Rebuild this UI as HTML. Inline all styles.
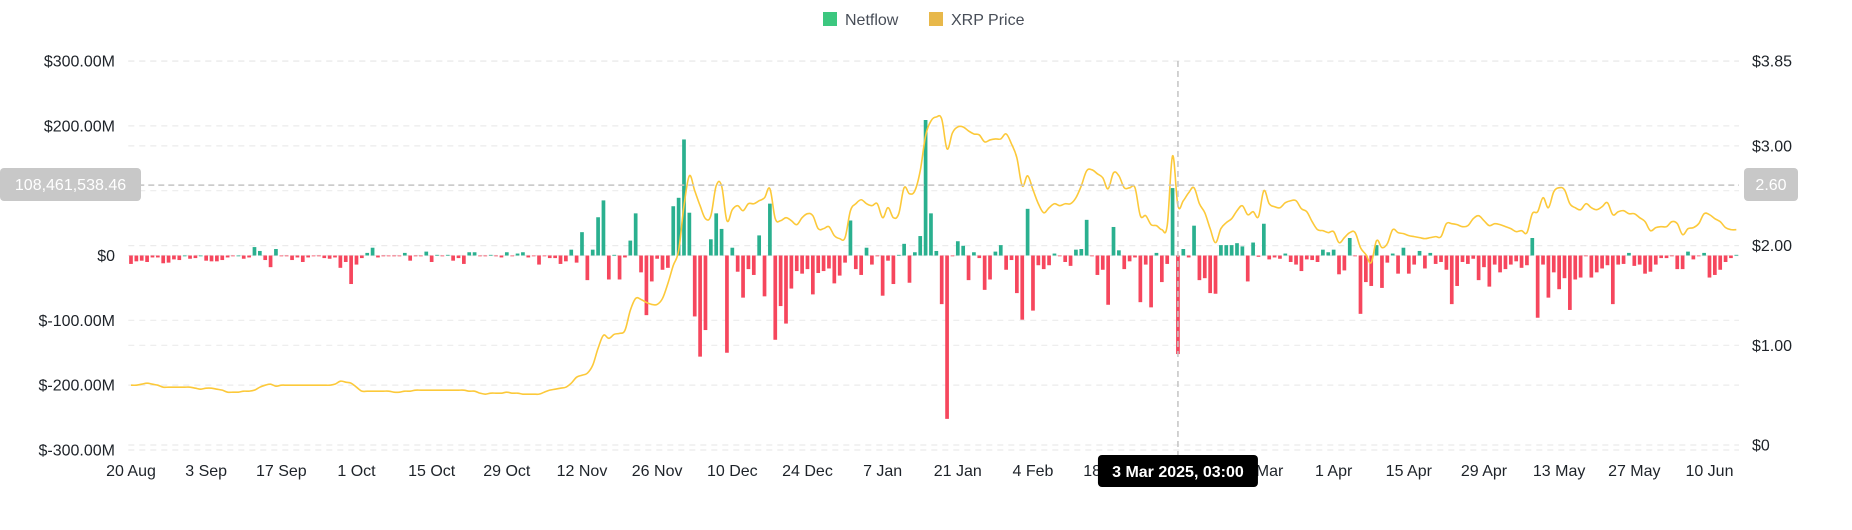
<!DOCTYPE html>
<html><head><meta charset="utf-8">
<style>
html,body{margin:0;padding:0;background:#fff;}
body{width:1852px;height:525px;overflow:hidden;font-family:"Liberation Sans",sans-serif;}
svg text{font-family:"Liberation Sans",sans-serif;}
</style></head>
<body>
<svg id="chart" width="1852" height="525" viewBox="0 0 1852 525" xmlns="http://www.w3.org/2000/svg">
<g id="legend">
  <g>
    <rect x="823" y="12" width="14" height="14" fill="#3cc77f"/>
    <text x="845" y="25" font-size="16" fill="#474d57">Netflow</text>
  </g>
  <g>
    <rect x="929" y="12" width="14" height="14" fill="#e8b84a"/>
    <text x="951" y="25" font-size="16" fill="#474d57">XRP Price</text>
  </g>
</g>
<g id="grid"></g>
<g id="bars"></g>
<path id="priceLine" fill="none" stroke="#fcc93a" stroke-width="1.6"/>
<g id="axes"></g>
<g id="cross"></g>
</svg>
<script>
const netflow = [
-13,-9,-8,-10,-3,-3,-12,-11,-6,-7,0,-5,-4,0,-8,-9,-9,-7,-3,-1,0,-5,-3,13,7,-7,-18,10,-1,-1,-7,-3,-10,-3,-1,-1,-4,-5,-3,-19,-10,-44,-14,-4,4,12,-3,-1,-1,-1,-1,
4,-8,-1,-1,6,-10,1,-1,1,-8,-4,-13,5,5,-1,-1,1,-1,-3,5,-1,3,5,-3,-1,-14,-1,-4,-4,-13,-9,9,-11,36,-38,9,59,85,-37,1,-37,-3,23,65,-26,-92,-40,-5,-22,-19,
76,89,179,66,-94,-156,-115,25,65,41,-150,12,-25,-65,-21,-30,31,-63,80,-130,-78,-105,-51,-24,-28,-21,-60,-27,-24,-20,-43,-31,-11,54,-21,-30,12,-14,-1,-62,-8,-44,1,18,-42,5,30,209,65,7,
-75,-252,-1,22,15,-38,5,-4,-53,-37,6,16,-22,-7,-58,-99,72,-85,-15,-21,-15,3,-1,-10,-16,9,10,55,-1,-30,-22,-76,44,8,-21,-9,-3,-72,-14,-80,4,-41,-13,104,-152,10,-3,46,-38,-35,
-58,-59,16,16,16,19,14,-40,20,-2,49,-6,-3,-5,3,-10,-14,-24,-6,-7,-10,9,5,9,-29,-23,27,-1,-90,-41,-47,16,-50,-11,3,-28,12,-28,-14,7,-20,4,-13,-10,-22,-75,-47,-10,-13,-5,-38,
-18,-48,-14,-26,-21,-14,-9,-19,-15,27,-96,-14,-65,-26,-52,-35,-84,-37,-34,-1,-34,-26,-20,-15,-75,-14,-13,4,-16,-14,-28,-25,-14,-4,-4,-1,-21,-21,6,-6,-1,4,-34,-30,-22,-10,-4,1
];
const price = [
0.60,0.60,0.61,0.62,0.61,0.60,0.58,0.58,0.58,0.58,0.58,0.58,0.57,0.56,0.57,0.57,0.56,0.55,0.53,0.53,0.53,0.54,0.54,0.55,0.58,0.60,0.61,0.59,0.60,0.60,0.60,0.60,0.60,0.60,0.60,0.60,0.60,0.60,0.61,0.64,0.63,0.62,0.58,0.54,0.54,0.54,0.54,0.54,0.54,0.53,0.53,
0.54,0.54,0.55,0.55,0.55,0.55,0.55,0.55,0.55,0.55,0.55,0.55,0.54,0.54,0.52,0.51,0.52,0.52,0.52,0.53,0.52,0.52,0.51,0.51,0.51,0.51,0.53,0.55,0.56,0.57,0.58,0.62,0.68,0.70,0.72,0.80,0.97,1.10,1.07,1.11,1.12,1.15,1.35,1.47,1.46,1.43,1.41,1.41,1.47,1.62,
1.80,1.95,2.40,2.70,2.55,2.40,2.27,2.30,2.60,2.60,2.25,2.36,2.40,2.35,2.42,2.42,2.45,2.48,2.57,2.27,2.25,2.28,2.25,2.21,2.28,2.32,2.30,2.17,2.17,2.19,2.10,2.07,2.08,2.35,2.42,2.46,2.42,2.40,2.42,2.28,2.38,2.28,2.32,2.58,2.52,2.55,2.75,3.10,3.25,3.29,
3.27,2.97,3.13,3.19,3.19,3.15,3.12,3.11,3.04,3.06,3.07,3.07,3.12,3.02,2.88,2.60,2.70,2.56,2.42,2.33,2.38,2.42,2.40,2.42,2.42,2.48,2.60,2.75,2.76,2.72,2.68,2.57,2.73,2.70,2.58,2.58,2.58,2.30,2.30,2.21,2.20,2.16,2.20,2.90,2.40,2.45,2.53,2.58,2.42,2.33,
2.17,2.03,2.17,2.23,2.27,2.35,2.40,2.31,2.34,2.29,2.55,2.42,2.39,2.38,2.43,2.45,2.45,2.37,2.34,2.24,2.16,2.15,2.13,2.14,2.03,2.08,2.13,2.13,1.98,1.91,1.83,2.05,1.98,2.02,2.16,2.13,2.12,2.10,2.09,2.08,2.07,2.08,2.09,2.09,2.22,2.22,2.21,2.19,2.20,2.27,2.30,
2.25,2.20,2.22,2.21,2.19,2.17,2.14,2.15,2.13,2.32,2.34,2.48,2.38,2.54,2.58,2.56,2.42,2.38,2.36,2.42,2.38,2.36,2.39,2.43,2.31,2.34,2.35,2.32,2.32,2.28,2.24,2.15,2.18,2.19,2.19,2.24,2.22,2.11,2.17,2.18,2.22,2.32,2.31,2.27,2.24,2.18,2.16,2.16
];
const xTickIdx = [0,14,28,42,56,70,84,98,112,126,140,154,168,182,196,210,224,238,252,266,280,294];
const xTickLabels = ["20 Aug","3 Sep","17 Sep","1 Oct","15 Oct","29 Oct","12 Nov","26 Nov","10 Dec","24 Dec","7 Jan","21 Jan","4 Feb","18 Feb","4 Mar","18 Mar","1 Apr","15 Apr","29 Apr","13 May","27 May","10 Jun"];
const leftTicks = [300,200,100,0,-100,-200,-300];
const leftTickLabels = ["$300.00M","$200.00M","","$0","$-100.00M","$-200.00M","$-300.00M"];
const rightTicks = [3.85,3.00,2.00,1.00,0];
const rightTickLabels = ["$3.85","$3.00","$2.00","$1.00","$0"];
const hoverIdx = 195;
const hoverNetflow = 108.46153846;
const hoverLabel = "108,461,538.46";
const hoverPriceLabel = "2.60";
const hoverDateLabel = "3 Mar 2025, 03:00";

const NS="http://www.w3.org/2000/svg";
const L=128.3,R=1739,N=300,step=(R-L)/N;
const xS=i=>L+(i+0.5)*step;
const yL=v=>255.5-v*0.6483;
const yR=v=>445-v*99.7;
function mk(tag,attrs,parent){const e=document.createElementNS(NS,tag);for(const k in attrs)e.setAttribute(k,attrs[k]);parent.appendChild(e);return e;}

const grid=document.getElementById('grid');
leftTicks.forEach(v=>{
  const ln=mk('line',{x1:L,x2:R,y1:yL(v),y2:yL(v),stroke:'#ebebeb','stroke-dasharray':'6,5','stroke-width':1.2},grid);
  
  
});
rightTicks.forEach(v=>{
  const ln=mk('line',{x1:L,x2:R,y1:yR(v),y2:yR(v),stroke:'#ebebeb','stroke-dasharray':'6,5','stroke-width':1.2},grid);
  
  
});

const bars=document.getElementById('bars');
netflow.forEach((v,i)=>{
  const y0=yL(0),y1=yL(v);
  const r=mk('rect',{x:xS(i)-1.85,width:3.7,y:Math.min(y0,y1),height:Math.max(Math.abs(y1-y0),0.8),fill:v>=0?'#2ab08f':'#f6465d'},bars);
  
  
});

(function(){
  const pts=price.map((p,i)=>[xS(i),yR(p)]);
  let d='M'+pts[0][0].toFixed(2)+','+pts[0][1].toFixed(2);
  for(let i=0;i<pts.length-1;i++){
    const p0=pts[Math.max(0,i-1)],p1=pts[i],p2=pts[i+1],p3=pts[Math.min(pts.length-1,i+2)];
    const t=0.18;
    const c1=[p1[0]+(p2[0]-p0[0])*t,p1[1]+(p2[1]-p0[1])*t];
    const c2=[p2[0]-(p3[0]-p1[0])*t,p2[1]-(p3[1]-p1[1])*t];
    d+=' C'+c1[0].toFixed(2)+','+c1[1].toFixed(2)+' '+c2[0].toFixed(2)+','+c2[1].toFixed(2)+' '+p2[0].toFixed(2)+','+p2[1].toFixed(2);
  }
  document.getElementById('priceLine').setAttribute('d',d);
})();

const axes=document.getElementById('axes');
leftTicks.forEach((v,k)=>{
  if(!leftTickLabels[k])return;
  const t=mk('text',{x:115,y:yL(v)+5.5,'text-anchor':'end','font-size':16,fill:'#1e2329'},axes);
  t.textContent=leftTickLabels[k];
  
  
});
rightTicks.forEach((v,k)=>{
  const t=mk('text',{x:1752,y:yR(v)+5.5,'font-size':16,fill:'#1e2329'},axes);
  t.textContent=rightTickLabels[k];
  
  
});
xTickIdx.forEach((ix,k)=>{
  const t=mk('text',{x:xS(ix),y:476,'text-anchor':'middle','font-size':16,fill:'#1e2329'},axes);
  t.textContent=xTickLabels[k];
  
  
});

const cross=document.getElementById('cross');
const hy=yL(hoverNetflow), hx=xS(hoverIdx);
const hl=mk('line',{x1:L,x2:R,y1:hy,y2:hy,stroke:'#c4c4c4','stroke-dasharray':'6,4','stroke-width':1.5},cross);


const vl=mk('line',{x1:hx,x2:hx,y1:61,y2:456,stroke:'#c4c4c4','stroke-dasharray':'6,4','stroke-width':1.5},cross);


const lb=mk('rect',{x:0,y:168,width:141,height:33,rx:4,fill:'#c8c8c8'},cross);


const lt=mk('text',{x:70.5,y:190,'text-anchor':'middle','font-size':16,fill:'#ffffff'},cross);
lt.textContent=hoverLabel;


const rb=mk('rect',{x:1744,y:168,width:54,height:33,rx:4,fill:'#c8c8c8'},cross);


const rt=mk('text',{x:1771,y:190,'text-anchor':'middle','font-size':16,fill:'#ffffff'},cross);
rt.textContent=hoverPriceLabel;


const tb=mk('rect',{x:hx-80,y:455,width:160,height:32,rx:4,fill:'#000000'},cross);


const tt=mk('text',{x:hx,y:477,'text-anchor':'middle','font-size':16,'font-weight':'bold',fill:'#ffffff'},cross);
tt.textContent=hoverDateLabel;


</script>
</body></html>
